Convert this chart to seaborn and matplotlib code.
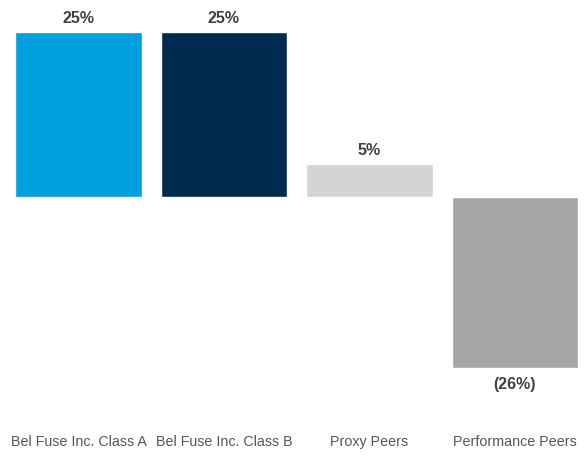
import matplotlib
matplotlib.use("Agg")
import matplotlib.pyplot as plt
import seaborn as sns
import pandas as pd

categories = ["Bel Fuse Inc. Class A", "Bel Fuse Inc. Class B", "Proxy Peers", "Performance Peers"]
values = [25, 25, 5, -26]
colors = ["#009FDD", "#002B50", "#D4D4D4", "#A5A5A5"]

sns.set_theme(style="white")
plt.rcParams["font.family"] = ["Liberation Sans", "DejaVu Sans"]

df = pd.DataFrame({"cat": categories, "val": values})

fig = plt.figure(figsize=(5.86, 4.57), dpi=100)
ax = fig.add_axes([0, 0.061, 1, 0.939])
sns.barplot(data=df, x="cat", y="val", hue="cat", palette=colors, width=0.87,
            dodge=False, legend=False, ax=ax, saturation=1)

ax.set_xlim(-0.5395, 3.488)
ax.set_ylim(-35.2, 29.85)

labels = [f"{v}%" if v >= 0 else f"({abs(v)}%)" for v in values]
for patch in ax.patches:
    cx = patch.get_x() + patch.get_width() / 2
    idx = int(round(cx))
    v = values[idx]
    lab = labels[idx]
    if v >= 0:
        ax.annotate(lab, (cx, v), xytext=(0, 4), textcoords="offset points",
                    ha="center", va="bottom", fontsize=11.5, fontweight="bold", color="#404040")
    else:
        ax.annotate(lab, (cx, v), xytext=(0, -6), textcoords="offset points",
                    ha="center", va="top", fontsize=11.5, fontweight="bold", color="#404040")

ax.set_xlabel("")
ax.set_ylabel("")
ax.set_yticks([])
ax.tick_params(axis="x", length=0, pad=4, labelsize=10.3, labelcolor="#555555")
for s in ax.spines.values():
    s.set_visible(False)

fig.savefig("out.png", dpi=100)
